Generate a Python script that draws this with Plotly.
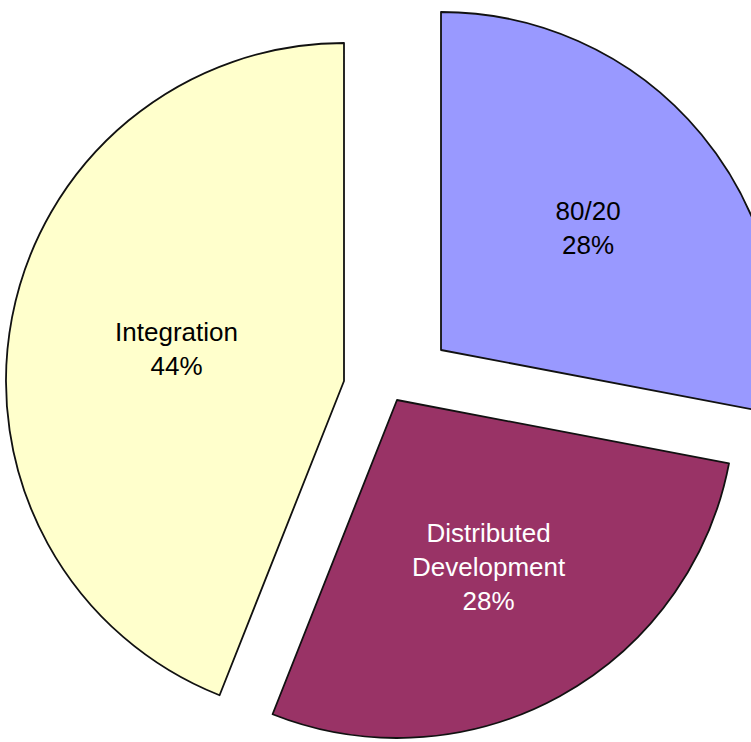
import plotly.graph_objects as go

# ---- data ----
categories = ["80/20", "Distributed Development", "Integration"]
label_text = ["80/20", "Distributed<br>Development", "Integration"]
values = [28, 28, 44]

# ---- styles ----
colors = ["#9999FF", "#993366", "#FFFFCC"]
text_colors = ["#000000", "#FFFFFF", "#000000"]

W, H = 800, 760
R = 338
# exploded slice centres (px, figure coords from top-left) – layout only
centres = [(441, 350), (397, 400), (344, 381)]

fig = go.Figure()
for i, (cx, cy) in enumerate(centres):
    n = len(values)
    fill = [colors[j] if j == i else "rgba(0,0,0,0)" for j in range(n)]
    lw = [1.8 if j == i else 0 for j in range(n)]
    tmpl = ["%{text}<br>%{percent}" if j == i else "" for j in range(n)]
    tcol = [text_colors[j] if j == i else "rgba(0,0,0,0)" for j in range(n)]
    fig.add_trace(go.Pie(
        labels=categories,
        values=values,
        text=label_text,
        texttemplate=tmpl,
        textposition="inside",
        insidetextorientation="horizontal",
        textfont=dict(family="Liberation Sans, Arial, sans-serif", size=26, color=tcol),
        sort=False,
        direction="clockwise",
        rotation=0,
        marker=dict(colors=fill, line=dict(color="#111111", width=lw)),
        domain=dict(x=[(cx - R) / W, (cx + R) / W], y=[1 - (cy + R) / H, 1 - (cy - R) / H]),
        hoverinfo="skip",
        showlegend=False,
    ))

fig.update_layout(
    width=W, height=H,
    margin=dict(l=0, r=0, t=0, b=0),
    paper_bgcolor="#FFFFFF",
    plot_bgcolor="#FFFFFF",
    showlegend=False,
)

fig.write_html(
    "out.html",
    config={"displayModeBar": False},
    post_script="document.body.style.margin='0';document.body.style.overflow='hidden';",
)
